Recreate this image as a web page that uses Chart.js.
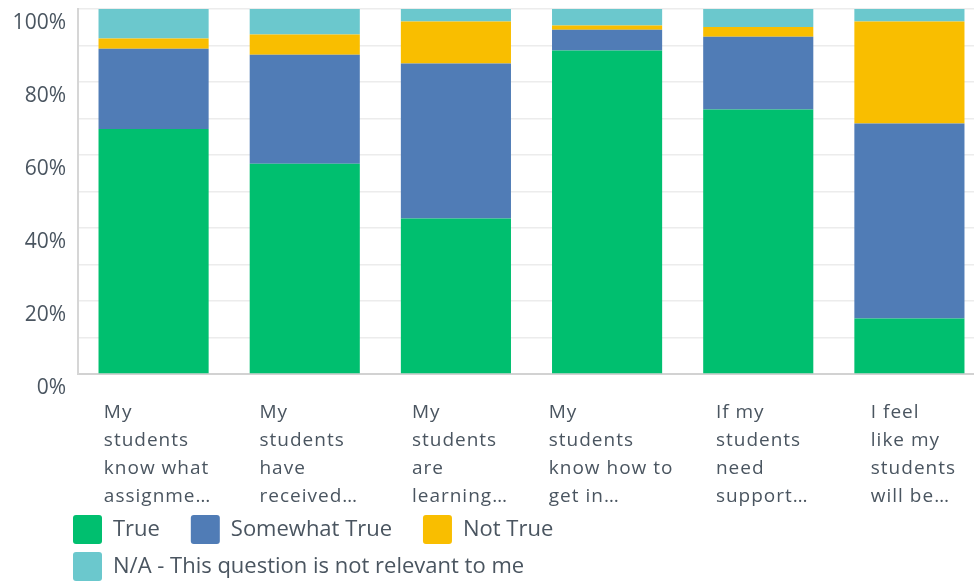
<!DOCTYPE html>
<html>
<head>
<meta charset="utf-8">
<script src="https://cdn.jsdelivr.net/npm/chart.js@4"></script>
<style>
  html, body { margin: 0; padding: 0; overflow: hidden; background: #ffffff; }
  #wrap { width: 985px; height: 591px; }
</style>
</head>
<body>
<div id="wrap"><canvas id="c" width="985" height="591"></canvas></div>
<script>
// ---- data ----
const categories = [
  ["My", "students", "know what", "assignme\u2026"],
  ["My", "students", "have", "received\u2026"],
  ["My", "students", "are", "learning\u2026"],
  ["My", "students", "know how to", "get in\u2026"],
  ["If my", "students", "need", "support\u2026"],
  ["I feel", "like my", "students", "will be\u2026"]
];
const seriesNames = ["True", "Somewhat True", "Not True", "N/A - This question is not relevant to me"];
const trueVals      = [67.1, 57.6, 42.6, 88.6, 72.5, 15.2];
const somewhatVals  = [22.0, 29.9, 42.5, 5.7, 19.9, 53.4];
const notTrueVals   = [2.8, 5.5, 11.5, 1.2, 2.7, 28.0];
const naVals        = [8.1, 7.0, 3.4, 4.5, 4.9, 3.4];
const yTickValues   = [0, 20, 40, 60, 80, 100];

// ---- style ----
const colors = ["#00bf6f", "#507cb6", "#f9be00", "#6bc8cd"];
const TEXT = "#4a5560";
const legendPad = ["    ", "    ", "", "                         "];

const xLabelPlugin = {
  id: 'xLabels',
  afterDraw(chart) {
    const sc = chart.scales.x;
    const ctx = chart.ctx;
    ctx.save();
    ctx.font = '19px "Open Sans"';
    try { ctx.letterSpacing = '1px'; } catch (e) {}
    ctx.fillStyle = TEXT;
    ctx.textAlign = 'left';
    ctx.textBaseline = 'alphabetic';
    categories.forEach((lines, i) => {
      const cx = sc.getPixelForValue(i);
      const w = Math.max(...lines.map(l => ctx.measureText(l).width));
      lines.forEach((l, j) => ctx.fillText(l, cx - w / 2 + 4, sc.top + 44 + j * 28));
    });
    ctx.restore();
  }
};

const legendShift = {
  id: 'legendShift',
  afterLayout(chart) {
    if (chart.legend) { chart.legend.left = 65; }
  }
};

const datasets = [trueVals, somewhatVals, notTrueVals, naVals].map((vals, i) => ({
  label: seriesNames[i],
  data: vals,
  backgroundColor: colors[i],
  borderColor: colors[i],
  borderWidth: 0,
  barPercentage: 110 / 151,
  categoryPercentage: 1.0
}));

new Chart(document.getElementById('c'), {
  type: 'bar',
  data: { labels: categories, datasets },
  plugins: [xLabelPlugin, legendShift],
  options: {
    responsive: false,
    animation: false,
    layout: { padding: { left: 12, right: 0, top: 0, bottom: 0 } },
    plugins: {
      tooltip: { enabled: false },
      legend: {
        position: 'bottom',
        align: 'start',
        labels: {
          boxWidth: 29,
          boxHeight: 29,
          padding: 8,
          useBorderRadius: true,
          borderRadius: 3,
          color: TEXT,
          font: { family: '"Open Sans"', size: 22 },
          generateLabels(chart) {
            const items = Chart.defaults.plugins.legend.labels.generateLabels(chart);
            items.forEach((it, i) => { it.text = it.text + legendPad[i]; it.lineWidth = 0; });
            return items;
          }
        }
      }
    },
    scales: {
      x: {
        stacked: true,
        offset: true,
        grid: { display: false, drawTicks: false },
        border: { display: true, color: '#d2d2d2', width: 2 },
        ticks: {
          color: 'rgba(0,0,0,0)',
          autoSkip: false,
          maxRotation: 0,
          minRotation: 0,
          padding: 10.5,
          font: { family: '"Open Sans"', size: 19, lineHeight: 28 / 19 }
        }
      },
      y: {
        stacked: true,
        min: 0,
        max: 100,
        afterFit(scale) { scale.width = 66; },
        grid: { color: '#ececec', lineWidth: 1.5, drawTicks: true, tickLength: 3, tickColor: 'rgba(0,0,0,0)' },
        border: { display: true, color: '#d6d6d6', width: 2 },
        ticks: {
          stepSize: 10,
          align: 'start',
          labelOffset: 4,
          padding: 9,
          color: TEXT,
          font: { family: '"Open Sans"', size: 21 },
          callback: (v) => (yTickValues.includes(v) ? v + '%' : '')
        }
      }
    }
  }
});
</script>
</body>
</html>
